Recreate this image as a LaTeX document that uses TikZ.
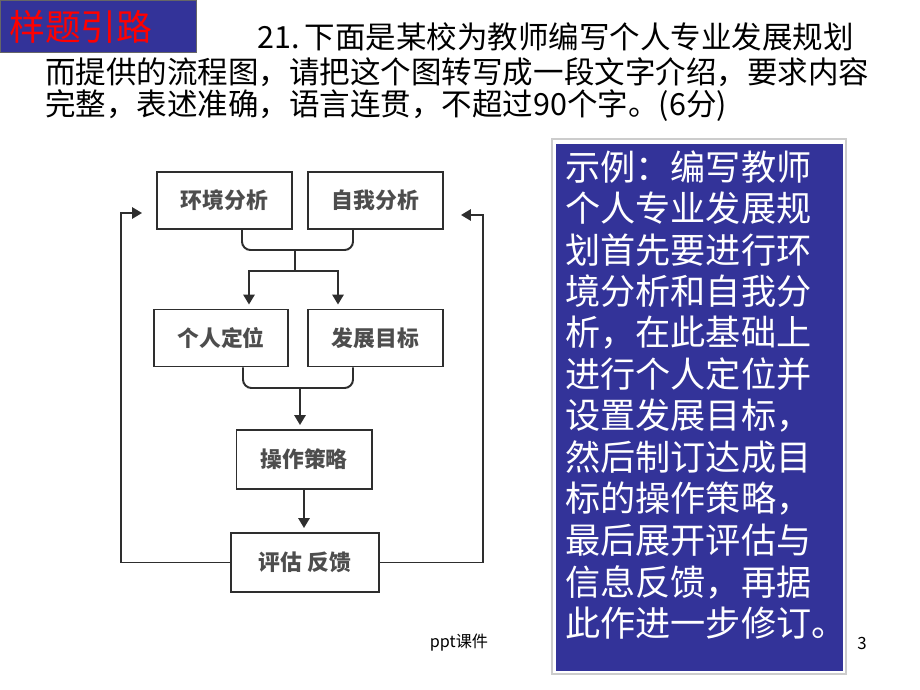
\documentclass[tikz,border=0pt]{standalone}
\usepackage{fontspec}
\usetikzlibrary{calc,arrows.meta}
\newfontfamily\cjk{Noto Sans CJK SC}
\definecolor{slideblue}{HTML}{333399}
\definecolor{flowgray}{HTML}{2E2E2E}
\tikzset{
  flowbox/.style={draw=flowgray, line width=1.4pt, minimum width=3.375cm, minimum height=1.425cm,
    text=flowgray!85, font=\cjk\bfseries\fontsize{15.5}{18}\selectfont},
  flowline/.style={draw=flowgray, line width=1.4pt},
  qline/.style={anchor=west, inner sep=0pt, font=\cjk\fontsize{21.7}{26}\selectfont},
  ansline/.style={anchor=west, inner sep=0pt, text=white, font=\cjk\fontsize{25}{30}\selectfont}
}
\begin{document}
\begin{tikzpicture}[x=0.025cm, y=-0.025cm, >={Triangle[length=7pt,width=8pt]}]
\useasboundingbox (0,0) rectangle (920,690);

% title and question
\fill[slideblue] (0,0) rectangle (197,53);
\draw[black!60, line width=0.6pt] (0.5,0.5) rectangle (196.5,52.5);
\node[text=red, font=\cjk\fontsize{25.5}{30}\selectfont] (title) at (81,27) {样题引路};
\node[qline] (q1) at (257,37) {21.\,下面是某校为教师编写个人专业发展规划};
\node[qline] (q2) at (45,72) {而提供的流程图，请把这个图转写成一段文字介绍，要求内容};
\node[qline] (q3) at (45,106) {完整，表述准确，语言连贯，不超过90个字。(6分)};

% flow chart
\node[flowbox] (env) at (224.5,200.5) {环境分析};
\node[flowbox] (self) at (375.5,200.5) {自我分析};
\node[flowbox, minimum width=3.35cm] (pos) at (221,338) {个人定位};
\node[flowbox] (goal) at (375.5,338) {发展目标};
\node[flowbox, minimum height=1.475cm] (ops) at (304,459.5) {操作策略};
\node[flowbox, minimum width=3.7cm, minimum height=1.475cm] (eval) at (305,562.5) {评估\ 反馈};

\coordinate (j1) at (295,250);
\coordinate (j2) at (295,271);
\coordinate (j3) at (300,388);
\coordinate (fbl) at ($(env.west)+(-14,12.5)$);
\coordinate (fbr) at ($(self.east)+(17,14.5)$);

\draw[flowline, rounded corners=6pt] ($(env.south)+(17.5,0)$) |- (j1) -| ($(self.south)+(-22.5,0)$);
\draw[flowline] (j1) -- (j2);
\draw[flowline, ->] (j2) -| ($(pos.north)+(28,-4)$);
\draw[flowline, ->] (j2) -| ($(goal.north)+(-37.5,-4)$);
\draw[flowline, rounded corners=6pt] ($(pos.south)+(22,0)$) |- (j3) -| ($(goal.south)+(-22.5,0)$);
\draw[flowline, ->] (j3) -- ($(j3 |- ops.north)+(0,-4)$);
\draw[flowline, ->] (ops.south) -- ($(ops.south |- eval.north)+(0,-4)$);
\draw[flowline, ->] (eval.west) -| ($(fbl)+(-21,0)$) -- (fbl);
\draw[flowline, ->] (eval.east) -| ($(fbr)+(22,0)$) -- (fbr);

% answer box
\draw[black!20, line width=0.8pt] (552,139) rectangle (846,674);
\fill[slideblue] (556,144) rectangle (843,671);
\foreach \i/\t in {0/示例：编写教师, 1/个人专业发展规, 2/划首先要进行环, 3/境分析和自我分,
  4/析，在此基础上, 5/进行个人定位并, 6/设置发展目标，, 7/然后制订达成目,
  8/标的操作策略，, 9/最后展开评估与, 10/信息反馈，再据, 11/此作进一步修订。}
{
  \node[ansline] (a\i) at (565,167+41.5*\i) {\t};
}

% footer
\node[font=\cjk\fontsize{11.5}{14}\selectfont] (foot) at (459,643) {ppt课件};
\node[font=\cjk\fontsize{12}{14}\selectfont] (page) at (862,643) {3};
\end{tikzpicture}
\end{document}
